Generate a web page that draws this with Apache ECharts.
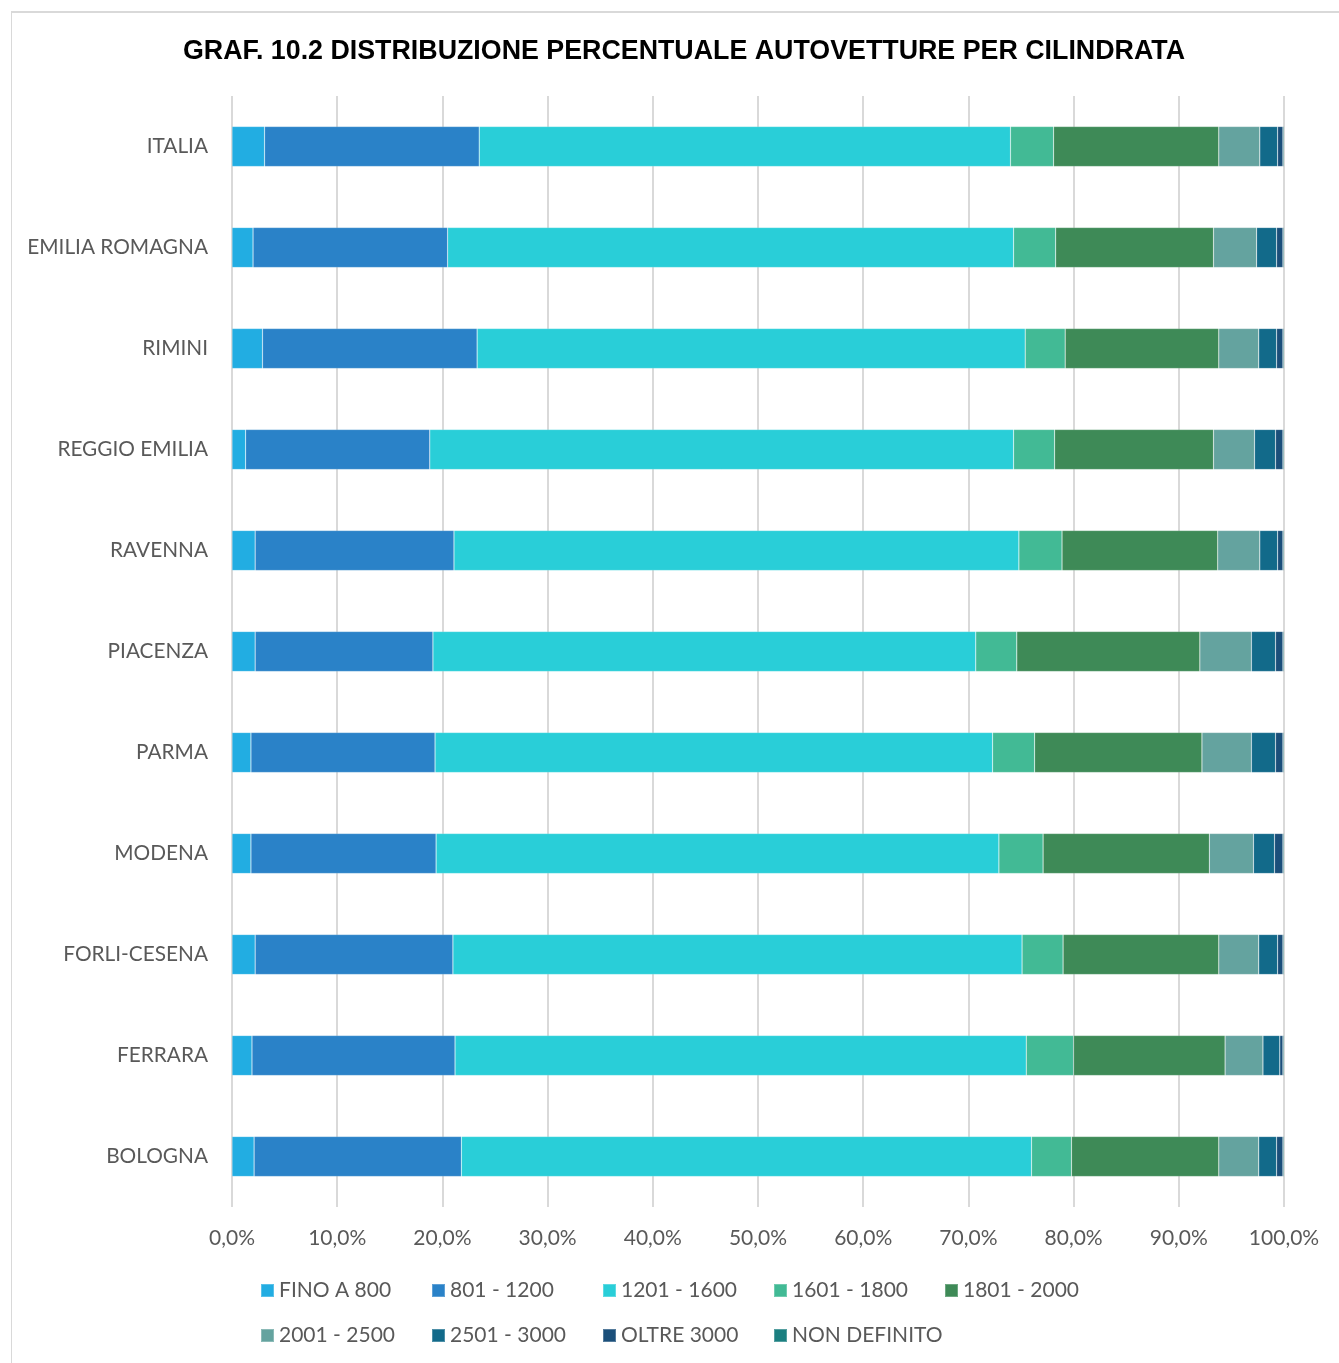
<!DOCTYPE html>
<html>
<head>
<meta charset="utf-8">
<script src="https://cdn.jsdelivr.net/npm/echarts@6/dist/echarts.min.js"></script>
<style>
  html, body { margin: 0; padding: 0; background: #fff; }
  #frame { position: absolute; left: 11px; top: 11px; width: 1340px; height: 1360px;
           border-top: 2px solid #d9d9d9; border-left: 1px solid #d9d9d9; }
  #chart { position: absolute; left: 0; top: 0; width: 1339px; height: 1363px; }
</style>
</head>
<body>
<div id="frame"></div>
<div id="chart"></div>
<script>
// categories, top to bottom
var province = ['ITALIA', 'EMILIA ROMAGNA', 'RIMINI', 'REGGIO EMILIA', 'RAVENNA', 'PIACENZA',
                'PARMA', 'MODENA', 'FORLI-CESENA', 'FERRARA', 'BOLOGNA'];

// percent share per class of engine size (same order as province)
var fino800     = [3.1, 2.0, 2.9, 1.3, 2.2, 2.2, 1.8, 1.8, 2.2, 1.9, 2.1];
var da801a1200  = [20.4, 18.5, 20.4, 17.5, 18.9, 16.9, 17.5, 17.6, 18.8, 19.3, 19.7];
var da1201a1600 = [50.5, 53.8, 52.1, 55.5, 53.7, 51.6, 53.0, 53.5, 54.1, 54.3, 54.2];
var da1601a1800 = [4.1, 4.0, 3.8, 3.9, 4.1, 3.9, 4.0, 4.2, 3.9, 4.5, 3.8];
var da1801a2000 = [15.7, 15.0, 14.6, 15.1, 14.8, 17.4, 15.9, 15.8, 14.8, 14.4, 14.0];
var da2001a2500 = [3.9, 4.1, 3.8, 3.9, 4.0, 4.9, 4.7, 4.2, 3.8, 3.6, 3.8];
var da2501a3000 = [1.7, 1.9, 1.7, 2.0, 1.7, 2.3, 2.3, 2.0, 1.8, 1.6, 1.7];
var oltre3000   = [0.5, 0.6, 0.6, 0.7, 0.5, 0.7, 0.7, 0.8, 0.5, 0.3, 0.6];
var nonDefinito = [0.1, 0.1, 0.1, 0.1, 0.1, 0.1, 0.1, 0.1, 0.1, 0.1, 0.1];

var classi = ['FINO A 800', '801 - 1200', '1201 - 1600', '1601 - 1800', '1801 - 2000',
              '2001 - 2500', '2501 - 3000', 'OLTRE 3000', 'NON DEFINITO'];
var valori = [fino800, da801a1200, da1201a1600, da1601a1800, da1801a2000,
              da2001a2500, da2501a3000, oltre3000, nonDefinito];
var colori = ['#22ade2', '#2a82c8', '#29ced8', '#42ba95', '#3e8a57',
              '#64a39f', '#126a8a', '#1b4f7a', '#1b7f80'];

var font = 'Lato, "Open Sans", sans-serif';

var series = classi.map(function (nome, i) {
  return {
    name: nome,
    type: 'bar',
    stack: 'tot',
    barWidth: 40,
    data: valori[i],
    itemStyle: { color: colori[i], borderColor: 'rgba(255,255,255,0.25)', borderWidth: 0.6 }
  };
});

var myChart = echarts.init(document.getElementById('chart'));
var option = {
  animation: false,
  title: {
    text: 'GRAF. 10.2 DISTRIBUZIONE PERCENTUALE AUTOVETTURE PER CILINDRATA',
    left: 679,
    top: 33,
    textAlign: 'center',
    textStyle: { fontFamily: '"Liberation Sans Narrow", "Liberation Sans", Arial, sans-serif',
                 fontWeight: 'bold', fontSize: 26.8, color: '#000' }
  },
  grid: { left: 232, right: 55, top: 96, bottom: 156, containLabel: false },
  xAxis: {
    type: 'value',
    min: 0,
    max: 100,
    interval: 10,
    axisLine: { show: false },
    axisTick: { show: false },
    splitLine: { lineStyle: { color: '#d9d9d9', width: 2 } },
    axisLabel: {
      margin: 21,
      fontFamily: font,
      fontSize: 21,
      color: '#595959',
      formatter: function (v) { return v.toFixed(1).replace('.', ',') + '%'; }
    }
  },
  yAxis: {
    type: 'category',
    inverse: true,
    data: province,
    axisLine: { show: false },
    axisTick: { show: false },
    axisLabel: { margin: 24, fontFamily: font, fontSize: 20.8, color: '#595959' }
  },
  legend: {
    left: 260,
    top: 1272,
    width: 880,
    padding: 0,
    itemWidth: 13,
    itemHeight: 13,
    itemGap: 8,
    icon: 'rect',
    formatter: '{a|{name}}',
    textStyle: {
      fontFamily: font, fontSize: 21, color: '#595959',
      rich: { a: { fontFamily: font, fontSize: 21, color: '#595959', width: 144, height: 37, lineHeight: 37 } }
    },
    data: classi
  },
  series: series
};
myChart.setOption(option);
</script>
</body>
</html>
